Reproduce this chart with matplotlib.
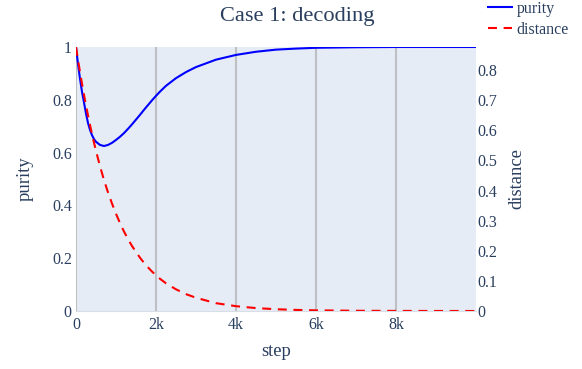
import matplotlib.pyplot as plt

# values
steps = [0, 50, 100, 150, 200, 250, 300, 350, 400, 450, 500, 600, 700, 800, 900,
         1000, 1100, 1200, 1300, 1400, 1500, 1600, 1700, 1800, 1900, 2000, 2100,
         2250, 2500, 2750, 3000, 3500, 4000, 4500, 5000, 5500, 6000, 7000, 8000,
         9000, 10000]
purity = [1.0, 0.935, 0.88, 0.83, 0.79, 0.748, 0.712, 0.686, 0.666, 0.651, 0.641,
          0.629, 0.625, 0.629, 0.637, 0.648, 0.66, 0.674, 0.69, 0.707, 0.725,
          0.743, 0.762, 0.78, 0.798, 0.815, 0.831, 0.853, 0.882, 0.905, 0.924,
          0.952, 0.97, 0.982, 0.99, 0.994, 0.997, 0.999, 1.0, 1.0, 1.0]
distance = [0.877, 0.834, 0.794, 0.755, 0.718, 0.683, 0.65, 0.618, 0.588, 0.559,
            0.532, 0.481, 0.435, 0.394, 0.357, 0.323, 0.292, 0.264, 0.239, 0.216,
            0.196, 0.177, 0.160, 0.145, 0.131, 0.119, 0.107, 0.092, 0.072,
            0.056, 0.044, 0.026, 0.016, 0.0097, 0.0059, 0.0036, 0.0022, 0.0008,
            0.0003, 0.0001, 0.0]

x_ticks = [0, 2000, 4000, 6000, 8000]
x_tick_labels = ["0", "2k", "4k", "6k", "8k"]
left_ticks = [0, 0.2, 0.4, 0.6, 0.8, 1.0]
left_tick_labels = ["0", "0.2", "0.4", "0.6", "0.8", "1"]
right_ticks = [0, 0.1, 0.2, 0.3, 0.4, 0.5, 0.6, 0.7, 0.8]
right_tick_labels = ["0", "0.1", "0.2", "0.3", "0.4", "0.5", "0.6", "0.7", "0.8"]

text_color = "#2a3f5f"
plt.rcParams["font.family"] = ["Liberation Serif", "DejaVu Serif"]

W, H = 582, 369
fig = plt.figure(figsize=(W / 100, H / 100), dpi=100)
ax = fig.add_axes([76 / W, (H - 311) / H, 400 / W, 264 / H])
ax.set_facecolor("#e5ecf6")
ax2 = ax.twinx()

# purity on the left axis, distance on the right one
line_p, = ax.plot(steps, purity, color="#0000ff", lw=1.5, label="purity")
line_d, = ax2.plot(steps, distance, color="#ff0000", lw=1.5, dashes=(4.3, 3.2),
                   label="distance")

ax.set_xlim(0, 10000)
ax.set_ylim(0, 1)
ax2.set_ylim(0, 0.877)

ax.set_xticks(x_ticks, x_tick_labels)
ax.set_yticks(left_ticks, left_tick_labels)
ax2.set_yticks(right_ticks, right_tick_labels)

ax.grid(axis="x", color="#bebfc3", lw=1.5)
ax.grid(axis="y", visible=False)
ax.set_axisbelow(True)

for a in (ax, ax2):
    for s in a.spines.values():
        s.set_visible(False)
    a.tick_params(length=0, labelsize=11.5, labelcolor=text_color)
ax.spines["bottom"].set_visible(True)
ax.spines["bottom"].set_color("#d8dde6")
ax.tick_params(axis="y", pad=3)
ax.tick_params(axis="x", pad=4)
ax2.tick_params(axis="y", pad=1)

ax.set_xlabel("step", fontsize=13.4, color=text_color, va="center")
ax.xaxis.set_label_coords(0.5, -0.155)
ax.set_ylabel("purity", fontsize=13.4, color=text_color, va="center")
ax.yaxis.set_label_coords(-0.1275, 0.5)
ax2.set_ylabel("distance", fontsize=13.4, color=text_color, va="center")
ax2.yaxis.set_label_coords(1.1025, 0.5)

fig.text(297.5 / W, 1 - 17 / H, "Case 1: decoding", fontsize=16.1,
         color=text_color, ha="center", va="center")

leg = fig.legend(handles=[line_p, line_d], loc="upper left",
                 bbox_to_anchor=(488 / W, 1 - 1 / H), frameon=False,
                 fontsize=11.5, handlelength=1.5, handletextpad=0.3,
                 labelspacing=0.3, borderpad=0, borderaxespad=0)
for t in leg.get_texts():
    t.set_color(text_color)

fig.savefig("out.png", dpi=100)
